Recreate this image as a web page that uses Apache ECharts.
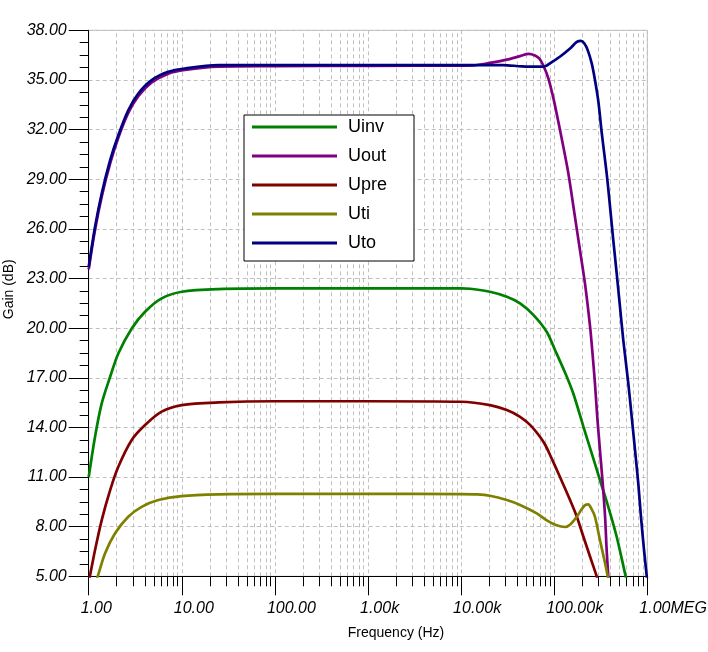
<!DOCTYPE html>
<html>
<head>
<meta charset="utf-8">
<script src="https://cdn.jsdelivr.net/npm/echarts@6/dist/echarts.min.js"></script>
<style>html,body{margin:0;padding:0;background:#fff}#c{width:708px;height:652px}</style>
</head>
<body>
<div id="c"></div>
<script>
const seriesNames = ['Uinv', 'Uout', 'Upre', 'Uti', 'Uto'];
const seriesColors = ['#008000', '#800080', '#800000', '#808000', '#000080'];

const freqUinv = [1, 1.17, 1.38, 1.7, 2.08, 2.9, 4.03, 6.08, 10, 25, 100, 1000, 10000, 12500, 20400, 31000, 43000, 60000, 83000, 102000, 131000, 160000, 206000, 253000, 310000, 381000, 469000, 576000, 600000];
const gainUinv = [11.0, 13.44, 15.45, 17.06, 18.47, 19.98, 20.99, 21.8, 22.2, 22.36, 22.4, 22.4, 22.4, 22.38, 22.2, 21.9, 21.5, 20.79, 19.78, 18.68, 17.3, 16.06, 14.04, 12.43, 10.82, 9.2, 7.39, 5.18, 4.75];

const freqUout = [1, 1.17, 1.38, 1.7, 2.08, 2.66, 3.41, 4.75, 7.17, 10.8, 24.7, 100, 1000, 10000, 13500, 20400, 31000, 43000, 53000, 62000, 69000, 76000, 86500, 98000, 111000, 120000, 142000, 167000, 189000, 214000, 243000, 256000, 274000, 290000, 310000, 332000, 352000, 366000, 381000, 390000];
const gainUout = [23.55, 25.95, 27.95, 29.95, 31.5, 33.0, 34.02, 34.85, 35.38, 35.6, 35.8, 35.83, 35.85, 35.87, 35.88, 36.03, 36.23, 36.44, 36.57, 36.48, 36.3, 35.9, 35.1, 33.9, 32.45, 31.5, 29.35, 26.73, 24.72, 22.7, 20.08, 18.68, 16.66, 14.64, 12.63, 10.62, 8.6, 6.59, 5.0, 4.3];

const freqUpre = [1, 1.03, 1.17, 1.38, 1.7, 2.08, 2.9, 4.03, 6.08, 10, 25, 100, 1000, 10000, 20400, 31000, 43000, 55000, 70000, 80000, 90000, 115000, 148000, 175000, 206000, 243000, 286000, 295000];
const gainUpre = [4.6, 5.0, 6.59, 8.4, 10.21, 11.62, 13.24, 14.14, 14.95, 15.35, 15.51, 15.58, 15.58, 15.55, 15.35, 15.05, 14.64, 14.15, 13.45, 12.95, 12.35, 11.02, 9.61, 8.6, 7.39, 6.18, 5.0, 4.7];

const freqUti = [1.2, 1.25, 1.5, 1.92, 2.66, 3.7, 5.6, 10, 25, 100, 1000, 10000, 14800, 20400, 31000, 43000, 65000, 85000, 106000, 131000, 150000, 175000, 197000, 215000, 232000, 250000, 274000, 310000, 352000, 376000, 385000];
const gainUti = [4.7, 5.0, 6.39, 7.6, 8.6, 9.2, 9.61, 9.85, 9.95, 9.98, 9.98, 9.97, 9.95, 9.87, 9.61, 9.31, 8.8, 8.35, 8.08, 7.98, 8.15, 8.6, 9.05, 9.3, 9.35, 9.1, 8.6, 7.19, 5.79, 5.0, 4.7];

const freqUto = [1, 1.17, 1.38, 1.7, 2.08, 2.66, 3.41, 4.75, 7.17, 10.8, 24.7, 100, 1000, 10000, 28000, 45000, 75000, 82000, 90000, 115000, 148000, 175000, 194000, 211000, 229000, 253000, 274000, 298000, 324000, 366000, 398000, 431000, 469000, 509000, 552000, 625000, 680000, 738000, 800000, 855000, 922000, 986000, 1000000];
const gainUto = [23.7, 26.12, 28.14, 30.15, 31.66, 33.17, 34.18, 34.99, 35.49, 35.69, 35.89, 35.9, 35.9, 35.9, 35.9, 35.82, 35.8, 35.85, 36.0, 36.4, 36.9, 37.3, 37.36, 37.2, 36.8, 36.0, 35.0, 33.7, 31.8, 29.35, 27.33, 25.32, 23.31, 21.29, 19.28, 16.66, 14.64, 12.63, 10.62, 8.6, 6.59, 5.0, 4.6];

const yMajorTicks = [5, 8, 11, 14, 17, 20, 23, 26, 29, 32, 35, 38];
const xDecades = [1, 10, 100, 1000, 10000, 100000, 1000000];
const xTickLabels = ['1.00', '10.00', '100.00', '1.00k', '10.00k', '100.00k', '1.00MEG'];
const minorMultipliers = [2, 3, 4, 5, 6, 7, 8, 9];

const freqs = [freqUinv, freqUout, freqUpre, freqUti, freqUto];
const gains = [gainUinv, gainUout, gainUpre, gainUti, gainUto];

const yMinorTicks = [];
for (let i = 0; i < yMajorTicks.length - 1; i++) {
  const step = (yMajorTicks[i + 1] - yMajorTicks[i]) / 4;
  for (let k = 1; k < 4; k++) yMinorTicks.push(yMajorTicks[i] + k * step);
}
const xMinorTicks = [];
xDecades.slice(0, -1).forEach(d => minorMultipliers.forEach(m => xMinorTicks.push(d * m)));

const FONT = 'Liberation Sans, Arial, sans-serif';
const GRID_LEFT = 88.7, GRID_TOP = 30.3, GRID_W = 558.6, GRID_H = 546;

const curveSeries = seriesNames.map((name, i) => ({
  name: name,
  type: 'line',
  xAxisIndex: 0,
  yAxisIndex: 0,
  z: 3,
  data: freqs[i].map((f, j) => [f, gains[i][j]]),
  showSymbol: false,
  symbol: 'none',
  smooth: 0.3,
  clip: true,
  lineStyle: { color: seriesColors[i], width: 2.7 },
  itemStyle: { color: seriesColors[i], borderWidth: 0 },
  emphasis: { disabled: true },
  silent: true
}));

const option = {
  animation: false,
  backgroundColor: '#fff',
  grid: [
    { left: GRID_LEFT, top: GRID_TOP, width: GRID_W, height: GRID_H, show: true, borderColor: '#c0c0c0', borderWidth: 1, backgroundColor: 'transparent', containLabel: false, outerBoundsMode: 'none' },
    { left: GRID_LEFT, top: GRID_TOP + GRID_H, width: GRID_W, height: 10, show: false, containLabel: false, outerBoundsMode: 'none' }
  ],
  legend: {
    orient: 'vertical',
    left: 244,
    top: 115,
    z: 10,
    padding: [3, 27, 9, 8],
    itemGap: 11,
    itemWidth: 85,
    itemHeight: 3,
    icon: 'rect',
    itemStyle: { borderWidth: 0, borderColor: 'transparent' },
    lineStyle: { width: 0 },
    backgroundColor: '#fff',
    borderColor: '#000',
    borderWidth: 1,
    selectedMode: false,
    textStyle: { fontSize: 18, fontFamily: FONT, color: '#000', padding: [0, 0, 0, 6] },
    data: seriesNames
  },
  xAxis: [
    {
      type: 'log', logBase: 10, min: 1, max: 1000000, gridIndex: 0,
      name: 'Frequency (Hz)', nameLocation: 'middle', nameGap: 50,
      nameTextStyle: { fontSize: 14, fontFamily: FONT, color: '#000', padding: [0, 0, 0, 56] },
      axisLine: { show: true, lineStyle: { color: '#000', width: 1 } },
      axisTick: { show: true, length: 19, lineStyle: { color: '#000', width: 1 } },
      minorTick: { show: false },
      axisLabel: {
        margin: 24, align: 'left', padding: [0, 0, 0, -8],
        fontSize: 16, fontStyle: 'italic', fontFamily: FONT, color: '#000',
        formatter: v => { const idx = xDecades.findIndex(d => Math.abs(d - v) / d < 1e-6); return idx >= 0 ? xTickLabels[idx] : ''; }
      },
      splitLine: { show: true, lineStyle: { color: '#c0c0c0', type: [4, 3], width: 1 } }
    },
    {
      type: 'log', logBase: 10, min: 1, max: 1000000, gridIndex: 1, show: false
    }
  ],
  yAxis: [
    {
      type: 'value', min: 5, max: 38, gridIndex: 0,
      name: 'Gain (dB)', nameLocation: 'middle', nameGap: 67,
      nameTextStyle: { fontSize: 14, fontFamily: FONT, color: '#000', padding: [0, 0, 0, 28] },
      axisLine: { show: true, lineStyle: { color: '#000', width: 1 } },
      axisTick: { show: true, length: 20, customValues: yMajorTicks, lineStyle: { color: '#000', width: 1 } },
      axisLabel: {
        customValues: yMajorTicks, margin: 22,
        fontSize: 16, fontStyle: 'italic', fontFamily: FONT, color: '#000',
        formatter: v => Number(v).toFixed(2)
      },
      splitLine: { show: true, lineStyle: { color: '#c0c0c0', type: [4, 3], width: 1 } }
    },
    {
      type: 'value', min: 5, max: 38, gridIndex: 0, position: 'left', offset: 0,
      axisLine: { show: false },
      axisLabel: { show: false },
      axisTick: { show: true, length: 9, customValues: yMinorTicks, lineStyle: { color: '#000', width: 1 } },
      splitLine: { show: false }
    },
    {
      type: 'value', min: 0, max: 1, gridIndex: 1, show: false
    }
  ],
  series: [
    {
      name: '_xMinorGrid', type: 'line', xAxisIndex: 0, yAxisIndex: 0, z: 1,
      data: [[1, 5]], symbol: 'none', lineStyle: { width: 0 }, silent: true,
      markLine: {
        z: 1, silent: true, symbol: ['none', 'none'], label: { show: false },
        lineStyle: { color: '#c0c0c0', type: [4, 3], width: 1 },
        emphasis: { disabled: true },
        animation: false,
        data: xMinorTicks.map(v => ({ xAxis: v }))
      }
    },
    {
      name: '_xMinorTicks', type: 'line', xAxisIndex: 1, yAxisIndex: 2, z: 1,
      data: [[1, 0]], symbol: 'none', lineStyle: { width: 0 }, silent: true,
      markLine: {
        z: 1, silent: true, symbol: ['none', 'none'], label: { show: false },
        lineStyle: { color: '#000', type: 'solid', width: 1 },
        emphasis: { disabled: true },
        animation: false,
        data: xMinorTicks.map(v => ({ xAxis: v }))
      }
    }
  ].concat(curveSeries)
};

const chart = echarts.init(document.getElementById('c'), null, { renderer: 'canvas' });
chart.setOption(option);
</script>
</body>
</html>
